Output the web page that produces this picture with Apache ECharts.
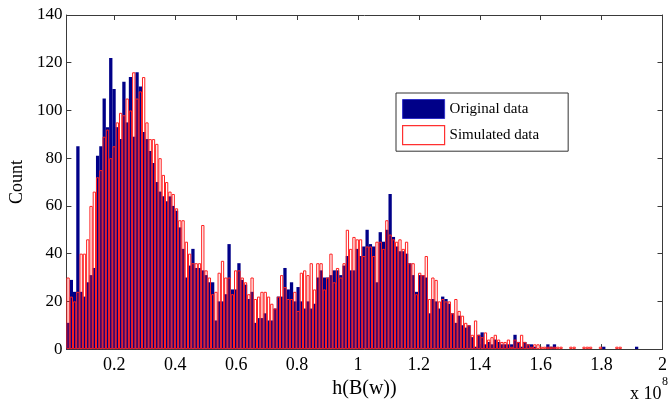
<!DOCTYPE html>
<html>
<head>
<meta charset="utf-8">
<script src="https://cdn.jsdelivr.net/npm/echarts@6/dist/echarts.min.js"></script>
<style>
html,body{margin:0;padding:0;background:#fff;}
#chart{width:670px;height:404px;}
</style>
</head>
<body>
<div id="chart"></div>
<script>
// Histogram bins (x in units of 1e8)
const binStart = 0.048;
const binWidth = 0.010792;
const xTickValues = [0.2, 0.4, 0.6, 0.8, 1.0, 1.2, 1.4, 1.6, 1.8, 2.0];
const yTickMax = 140;

// Counts per bin
const originalCounts = [
  11, 29, 24, 85, 24, 22, 28, 31, 34, 81,
  85, 105, 93, 122, 109, 93, 88, 112, 95, 114,
  89, 116, 110, 91, 88, 83, 78, 70, 66, 64,
  62, 64, 60, 58, 51, 42, 30, 35, 42, 34,
  34, 33, 31, 28, 28, 12, 20, 20, 23, 44,
  25, 25, 36, 29, 27, 21, 24, 11, 13, 13,
  15, 12, 12, 17, 22, 22, 34, 25, 28, 20,
  26, 20, 17, 20, 17, 19, 30, 33, 30, 30,
  31, 33, 33, 31, 35, 39, 33, 33, 42, 39,
  43, 50, 44, 43, 28, 49, 45, 50, 65, 47,
  43, 41, 41, 40, 36, 31, 24, 31, 31, 30,
  15, 21, 20, 17, 22, 21, 19, 15, 11, 14,
  10, 9, 10, 5, 1, 6, 7, 2, 3, 2,
  4, 3, 2, 2, 2, 2, 6, 3, 1, 3,
  2, 2, 1, 0, 0, 0, 2, 1, 2, 0,
  0, 0, 0, 0, 0, 0, 0, 0, 0, 0,
  0, 0, 0, 1, 0, 0, 0, 0, 0, 0,
  0, 0, 0, 1
];
const simulatedCounts = [
  30, 22, 20, 24, 40, 40, 46, 60, 66, 72,
  75, 89, 92, 80, 85, 95, 99, 98, 105, 100,
  116, 105, 108, 114, 95, 88, 88, 86, 80, 73,
  70, 66, 65, 59, 54, 54, 45, 40, 36, 36,
  36, 52, 33, 30, 23, 24, 32, 37, 30, 30,
  23, 33, 33, 30, 28, 23, 30, 21, 22, 24,
  24, 22, 19, 17, 22, 31, 26, 21, 21, 24,
  16, 32, 33, 31, 36, 25, 36, 36, 25, 30,
  40, 28, 34, 30, 36, 50, 42, 47, 46, 46,
  39, 43, 43, 39, 45, 45, 42, 54, 48, 46,
  45, 46, 42, 45, 36, 36, 23, 32, 31, 39,
  21, 30, 29, 20, 21, 20, 20, 15, 21, 16,
  14, 11, 10, 6, 12, 6, 5, 7, 4, 5,
  6, 4, 3, 3, 4, 1, 4, 3, 6, 3,
  2, 1, 2, 2, 1, 1, 1, 1, 1, 1,
  1, 0, 0, 1, 1, 0, 0, 1, 1, 1,
  0, 0, 1, 0, 0, 0, 0, 1, 1, 0,
  0, 0, 0, 0
];

function toPairs(counts) {
  const out = [];
  counts.forEach((c, i) => {
    if (c > 0) out.push([binStart + i * binWidth, c]);
  });
  return out;
}

const FONT = '"Liberation Serif", "Times New Roman", serif';
const xMin = binStart - binWidth / 2;
const xMax = 2.0;
const axisColor = '#3a3a3a';

const chart = echarts.init(document.getElementById('chart'), null, {renderer: 'canvas'});
chart.setOption({
  animation: false,
  backgroundColor: '#ffffff',
  grid: {left: 66, right: 2, top: 15, bottom: 51, containLabel: false},
  legend: {
    left: 396, top: 93,
    orient: 'vertical',
    padding: [6, 29, 6, 6],
    itemGap: 6,
    itemWidth: 42, itemHeight: 19,
    borderColor: '#333', borderWidth: 1,
    backgroundColor: '#fff',
    textStyle: {fontFamily: FONT, fontSize: 15, color: '#000', padding: [0, 0, 0, 0]},
    data: [
      {name: 'Original data', icon: 'rect', itemStyle: {color: '#000088', borderColor: '#3030c8', borderWidth: 1}},
      {name: 'Simulated data', icon: 'rect', itemStyle: {color: '#ffffff', borderColor: '#ff3030', borderWidth: 1.2}}
    ]
  },
  xAxis: [{
    type: 'value', min: xMin, max: xMax, position: 'bottom',
    name: 'h(B(w))', nameLocation: 'middle', nameGap: 22,
    nameTextStyle: {fontFamily: FONT, fontSize: 20, color: '#000'},
    axisLine: {show: true, onZero: false, lineStyle: {color: axisColor, width: 1}},
    axisTick: {show: true, inside: true, length: 5, customValues: xTickValues, lineStyle: {color: axisColor}},
    axisLabel: {show: true, customValues: xTickValues, margin: 7, fontFamily: FONT, fontSize: 18, color: '#000',
      formatter: v => String(Math.round(v * 10) / 10)},
    splitLine: {show: false}
  }, {
    type: 'value', min: xMin, max: xMax, position: 'top',
    axisLine: {show: true, onZero: false, lineStyle: {color: axisColor, width: 1}},
    axisTick: {show: true, inside: true, length: 5, customValues: xTickValues, lineStyle: {color: axisColor}},
    axisLabel: {show: false},
    splitLine: {show: false}
  }],
  yAxis: [{
    type: 'value', min: 0, max: yTickMax, interval: 20, position: 'left',
    name: 'Count', nameLocation: 'middle', nameGap: 34,
    nameTextStyle: {fontFamily: FONT, fontSize: 18, color: '#000'},
    axisLine: {show: true, lineStyle: {color: axisColor, width: 1}},
    axisTick: {show: true, inside: true, length: 5, lineStyle: {color: axisColor}},
    axisLabel: {margin: 4, fontFamily: FONT, fontSize: 17, color: '#000'},
    splitLine: {show: false}
  }, {
    type: 'value', min: 0, max: yTickMax, interval: 20, position: 'right',
    axisLine: {show: true, lineStyle: {color: axisColor, width: 1}},
    axisTick: {show: true, inside: true, length: 5, lineStyle: {color: axisColor}},
    axisLabel: {show: false},
    splitLine: {show: false}
  }],
  graphic: [
    {type: 'text', left: 630, top: 385, style: {text: 'x 10', font: '18px ' + FONT, fill: '#000'}},
    {type: 'text', left: 662, top: 376, style: {text: '8', font: '12px ' + FONT, fill: '#000'}}
  ],
  series: [{
    name: 'Original data', type: 'bar', xAxisIndex: 0, yAxisIndex: 0,
    data: toPairs(originalCounts),
    barWidth: 3.3, barGap: '-100%',
    itemStyle: {color: '#000088'},
    emphasis: {disabled: true}
  }, {
    name: 'Simulated data', type: 'bar', xAxisIndex: 0, yAxisIndex: 0,
    data: toPairs(simulatedCounts),
    barWidth: 3.3, barGap: '-100%',
    itemStyle: {color: 'rgba(0,0,0,0)', borderColor: '#ff2020', borderWidth: 1},
    emphasis: {disabled: true}
  }]
});
</script>
</body>
</html>
